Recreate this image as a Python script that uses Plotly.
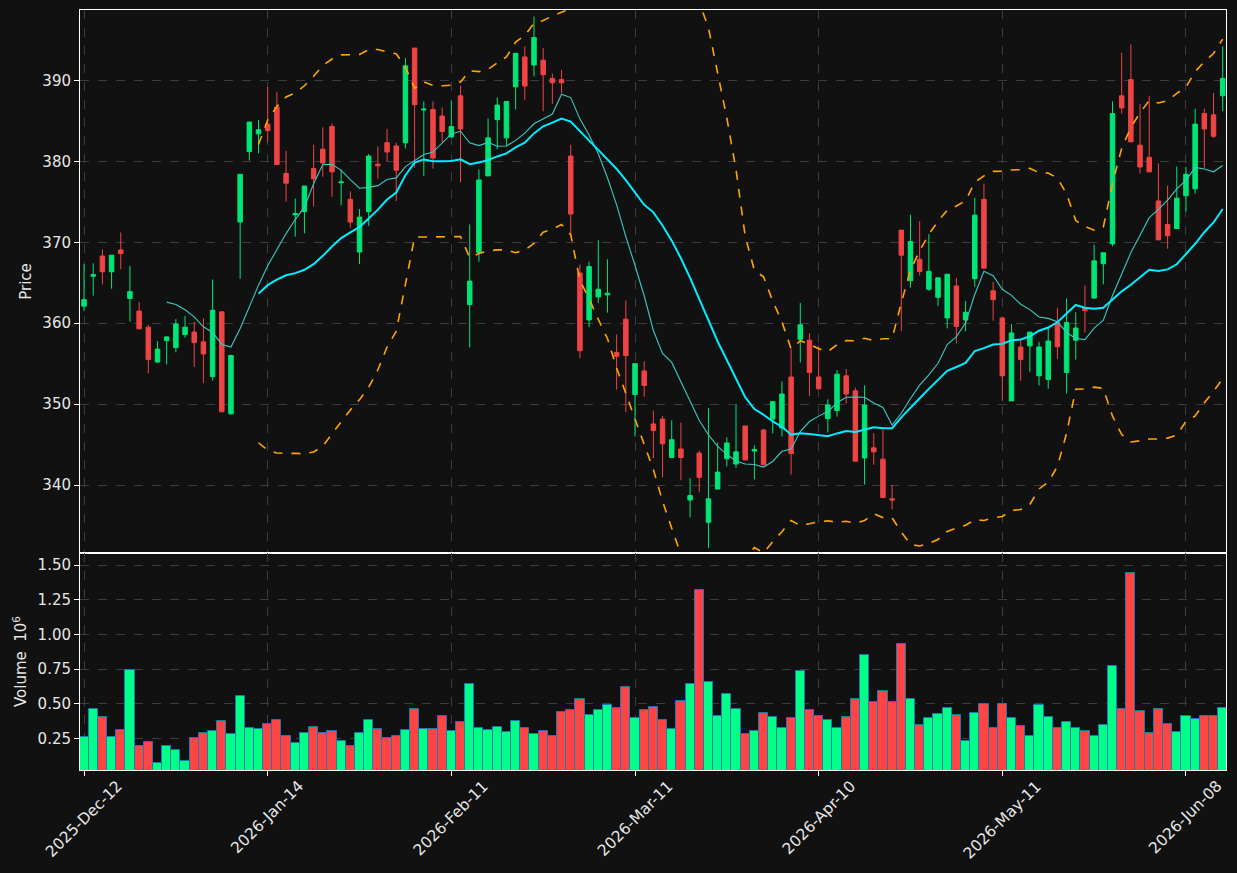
import pandas as pd
import plotly.graph_objects as go
from plotly.subplots import make_subplots

opens = [362.1, 365.8, 368.3, 366.35, 369.05, 363.05, 361.5, 359.5, 355.2, 357.85,
         357.0, 358.6, 358.9, 357.7, 353.4, 361.4, 348.8, 372.5, 381.2, 383.4,
         384.6, 386.7, 378.5, 373.4, 373.8, 379.1, 381.5, 384.3, 377.35, 375.3,
         368.8, 373.8, 379.65, 382.3, 381.9, 382.3, 394.0, 386.35, 386.4, 385.6,
         383.0, 388.1, 362.3, 368.75, 378.2, 385.15, 382.9, 389.2, 392.9, 391.9,
         392.5, 390.25, 390.1, 380.65, 366.2, 360.4, 363.25, 363.5, 356.4, 360.5,
         351.2, 354.1, 347.55, 348.15, 343.4, 344.45, 338.15, 343.95, 335.4, 339.5,
         343.25, 342.6, 347.3, 344.2, 346.8, 348.15, 347.05, 353.35, 358.0, 357.9,
         353.35, 348.2, 349.2, 353.5, 351.65, 343.35, 344.6, 343.2, 338.3, 371.5,
         365.25, 367.9, 364.2, 363.2, 360.65, 364.6, 360.4, 365.5, 375.3, 364.0,
         360.65, 350.4, 357.05, 357.2, 353.5, 353.05, 360.05, 353.9, 357.9, 361.9,
         363.1, 367.35, 369.8, 388.1, 390.1, 382.0, 380.5, 375.1, 372.2, 371.7,
         375.75, 376.6, 385.9, 385.75, 388.1]
highs = [367.3, 367.4, 369.1, 368.4, 371.2, 367.1, 362.6, 359.8, 357.8, 358.4,
         360.5, 360.9, 360.2, 360.6, 365.4, 361.4, 356.1, 378.4, 384.85, 385.1,
         389.2, 388.6, 381.3, 375.4, 376.95, 382.05, 384.2, 384.7, 379.0, 376.3,
         374.1, 380.9, 381.85, 384.0, 382.3, 392.75, 394.0, 387.4, 387.4, 386.65,
         387.5, 389.35, 372.2, 379.0, 385.3, 387.9, 387.4, 393.35, 394.2, 397.9,
         394.0, 390.85, 391.3, 382.05, 367.25, 367.6, 370.25, 367.9, 358.6, 362.8,
         355.0, 355.3, 349.2, 348.55, 348.0, 347.7, 340.85, 344.25, 349.5, 345.25,
         345.9, 349.95, 347.3, 344.9, 346.95, 350.4, 352.8, 356.8, 362.5, 358.75,
         357.2, 350.6, 354.2, 354.35, 352.05, 352.3, 346.4, 346.8, 340.0, 371.5,
         373.4, 372.6, 371.0, 365.6, 366.05, 365.6, 362.75, 375.5, 377.25, 365.1,
         360.65, 359.9, 358.0, 358.9, 357.7, 359.45, 361.9, 363.05, 361.35, 364.65,
         369.7, 368.7, 387.4, 393.4, 394.45, 387.1, 388.1, 379.75, 377.0, 379.35,
         379.3, 386.5, 386.5, 388.45, 394.2]
lows = [361.5, 363.4, 364.8, 364.25, 366.65, 360.2, 359.3, 353.8, 355.1, 354.9,
        356.4, 358.2, 354.6, 352.6, 352.9, 349.05, 348.7, 365.5, 380.1, 381.0,
        382.4, 379.6, 375.0, 370.7, 371.1, 374.4, 378.1, 375.6, 374.55, 371.8,
        367.3, 372.0, 377.85, 380.0, 375.1, 381.6, 379.2, 378.2, 379.1, 382.4,
        383.0, 377.4, 357.0, 367.6, 378.2, 381.5, 381.9, 386.4, 387.6, 390.5,
        386.2, 387.1, 388.4, 370.8, 355.7, 359.5, 362.5, 361.3, 351.8, 349.0,
        346.0, 350.9, 343.3, 340.95, 343.4, 340.6, 336.0, 339.1, 332.2, 339.5,
        342.3, 342.1, 343.1, 340.7, 342.5, 346.4, 346.0, 341.3, 355.15, 351.0,
        351.9, 346.5, 348.45, 350.05, 342.95, 340.05, 342.5, 338.45, 337.0, 359.0,
        364.4, 365.9, 364.0, 362.1, 359.35, 357.5, 359.0, 364.5, 366.8, 360.3,
        350.4, 350.4, 352.9, 354.0, 352.3, 351.9, 355.6, 351.3, 355.5, 358.85,
        363.1, 364.8, 369.5, 385.9, 382.4, 378.5, 378.7, 370.3, 369.2, 371.7,
        373.8, 376.0, 379.2, 382.9, 386.2]
closes = [362.9, 366.0, 366.35, 368.4, 368.6, 363.9, 359.3, 355.5, 356.8, 358.3,
          359.9, 359.5, 357.6, 356.2, 361.6, 349.05, 356.0, 378.4, 384.85, 383.9,
          383.8, 379.6, 377.3, 373.55, 376.95, 377.85, 379.8, 378.7, 377.45, 372.5,
          373.1, 380.65, 379.45, 381.15, 378.9, 391.8, 387.0, 386.45, 380.4, 383.7,
          384.3, 384.0, 365.2, 377.7, 382.9, 386.95, 387.4, 393.35, 389.3, 395.3,
          390.7, 389.7, 389.7, 373.5, 356.6, 367.0, 364.2, 363.7, 355.9, 356.0,
          355.0, 352.3, 346.75, 345.1, 345.6, 343.4, 338.7, 340.95, 338.3, 341.6,
          345.2, 344.1, 343.1, 344.4, 342.5, 350.3, 351.25, 343.9, 359.8, 353.9,
          351.9, 349.9, 353.7, 351.25, 342.95, 349.9, 344.1, 338.45, 338.15, 368.4,
          370.1, 366.4, 366.4, 365.6, 366.05, 359.6, 361.35, 373.35, 366.8, 362.9,
          353.5, 358.8, 355.5, 358.9, 357.05, 357.8, 357.1, 360.1, 359.4, 361.55,
          367.7, 368.7, 385.9, 386.6, 382.4, 379.3, 378.7, 370.3, 370.8, 375.45,
          378.4, 384.6, 384.0, 383.1, 390.25]
volumes_m = [0.260, 0.462, 0.404, 0.260, 0.310, 0.745, 0.195, 0.224, 0.072, 0.195,
             0.166, 0.087, 0.252, 0.288, 0.303, 0.375, 0.281, 0.555, 0.325, 0.317,
             0.353, 0.382, 0.267, 0.216, 0.288, 0.332, 0.288, 0.303, 0.231, 0.195,
             0.288, 0.382, 0.317, 0.252, 0.267, 0.310, 0.462, 0.317, 0.317, 0.411,
             0.303, 0.368, 0.642, 0.325, 0.310, 0.332, 0.296, 0.375, 0.325, 0.281,
             0.303, 0.267, 0.440, 0.454, 0.534, 0.418, 0.454, 0.490, 0.469, 0.620,
             0.397, 0.454, 0.476, 0.382, 0.317, 0.519, 0.642, 1.320, 0.656, 0.411,
             0.570, 0.462, 0.281, 0.303, 0.433, 0.404, 0.325, 0.397, 0.736, 0.454,
             0.411, 0.382, 0.325, 0.404, 0.534, 0.851, 0.512, 0.591, 0.512, 0.930,
             0.534, 0.346, 0.397, 0.425, 0.469, 0.418, 0.231, 0.433, 0.498, 0.325,
             0.498, 0.397, 0.339, 0.267, 0.490, 0.404, 0.325, 0.368, 0.325, 0.303,
             0.267, 0.346, 0.772, 0.462, 1.442, 0.447, 0.288, 0.462, 0.353, 0.296,
             0.411, 0.389, 0.411, 0.411, 0.469]
tick_idx = [0, 20, 40, 60, 80, 100, 120]
tick_labels = ["2025-Dec-12", "2026-Jan-14", "2026-Feb-11", "2026-Mar-11",
               "2026-Apr-10", "2026-May-11", "2026-Jun-08"]

x = list(range(len(closes)))
close_s = pd.Series(closes)
ma10 = close_s.rolling(10).mean()
ma20 = close_s.rolling(20).mean()
sd20 = close_s.rolling(20).std(ddof=0)
bb_up = ma20 + 2 * sd20
bb_lo = ma20 - 2 * sd20

UP_C, DN_C = "#00e676", "#ef4444"
VUP_C, VDN_C = "#00ff88", "#ff4444"
vol_colors = [VUP_C if c >= o else VDN_C for o, c in zip(opens, closes)]

BG = "#111111"
GRID = "#3c3c3c"
TXT = "#e6e6e6"
FONT = "DejaVu Sans"
FS = 15

fig = make_subplots(rows=2, cols=1, shared_xaxes=True, vertical_spacing=0,
                    row_heights=[0.7145, 0.2855])

fig.add_trace(go.Candlestick(
    x=x, open=opens, high=highs, low=lows, close=closes,
    increasing=dict(line=dict(color=UP_C, width=1), fillcolor=UP_C),
    decreasing=dict(line=dict(color=DN_C, width=1), fillcolor=DN_C),
    whiskerwidth=0, showlegend=False), row=1, col=1)

fig.add_trace(go.Scatter(x=x, y=ma10, mode="lines",
                         line=dict(color="#3ec9c0", width=1.1),
                         showlegend=False), row=1, col=1)
fig.add_trace(go.Scatter(x=x, y=ma20, mode="lines",
                         line=dict(color="#00eeff", width=2),
                         showlegend=False), row=1, col=1)
fig.add_trace(go.Scatter(x=x, y=bb_up, mode="lines",
                         line=dict(color="#ffa500", width=1.6, dash="dash"),
                         showlegend=False), row=1, col=1)
fig.add_trace(go.Scatter(x=x, y=bb_lo, mode="lines",
                         line=dict(color="#ffa500", width=1.6, dash="dash"),
                         showlegend=False), row=1, col=1)

fig.add_trace(go.Bar(x=x, y=volumes_m, marker=dict(color=vol_colors,
                     line=dict(color="#1f77b4", width=1)),
                     width=1.0, showlegend=False), row=2, col=1)

axis_common = dict(showline=True, linecolor="white", linewidth=1, mirror=True,
                   showgrid=True, gridcolor=GRID, griddash="dash", gridwidth=1,
                   zeroline=False, tickfont=dict(family=FONT, size=FS, color=TXT),
                   tickcolor="white", ticklen=5)

fig.update_xaxes(**axis_common)
fig.update_yaxes(**axis_common)

fig.update_xaxes(range=[-0.44, 124.36], tickvals=tick_idx, ticktext=tick_labels,
                 rangeslider_visible=False)
fig.update_xaxes(showticklabels=False, ticks="", row=1, col=1)
fig.update_xaxes(ticks="outside", showticklabels=False, row=2, col=1)

fig.update_yaxes(range=[331.6, 398.7], dtick=10, ticks="outside",
                 title=dict(text="Price", font=dict(family=FONT, size=FS, color=TXT),
                            standoff=7), row=1, col=1)
fig.update_yaxes(range=[0.024, 1.587], tickvals=[0.25, 0.5, 0.75, 1.0, 1.25, 1.5],
                 ticktext=["0.25", "0.50", "0.75", "1.00", "1.25", "1.50"],
                 ticks="outside",
                 title=dict(text="Volume  10<sup>6</sup>",
                            font=dict(family=FONT, size=FS, color=TXT), standoff=7),
                 row=2, col=1)

# date tick labels, centred under each tick like the reference (rotated 45 degrees)
for xi, lab in zip(tick_idx, tick_labels):
    fig.add_annotation(x=xi, xref="x2", y=-0.006, yref="paper", text=lab,
                       showarrow=False, textangle=-45, xanchor="center",
                       yanchor="top", font=dict(family=FONT, size=15.5, color=TXT))

fig.update_layout(width=1237, height=873,
                  margin=dict(l=80, r=11, t=10, b=103),
                  paper_bgcolor=BG, plot_bgcolor=BG,
                  font=dict(family=FONT, size=FS, color=TXT),
                  bargap=0, showlegend=False)

fig.write_html("out.html")
